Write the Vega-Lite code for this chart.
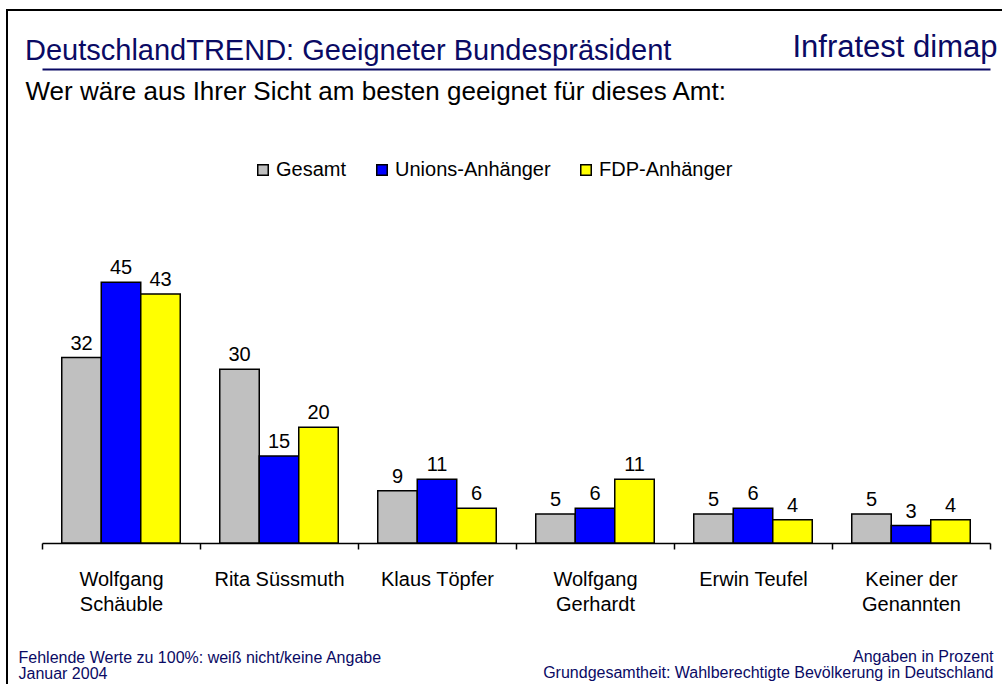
{
  "$schema": "https://vega.github.io/schema/vega-lite/v6.json",
  "autosize": "none",
  "width": 1000,
  "height": 690,
  "padding": {"left": 7, "top": 10, "right": 0, "bottom": 0},
  "background": "white",
  "title": {
    "text": "DeutschlandTREND: Geeigneter Bundespräsident",
    "anchor": "start",
    "frame": "group",
    "orient": "top",
    "baseline": "alphabetic",
    "offset": 0,
    "dx": 18,
    "dy": 79,
    "fontSize": 29,
    "fontWeight": "normal",
    "color": "#0a0a64",
    "font": "Liberation Sans"
  },
  "config": {
    "font": "Liberation Sans",
    "view": {"stroke": "black", "strokeWidth": 2},
    "axis": {"grid": false}
  },
  "data": {
    "values": [
      {"kandidat": "Wolfgang Schäuble", "gruppe": "Gesamt", "wert": 32},
      {"kandidat": "Wolfgang Schäuble", "gruppe": "Unions-Anhänger", "wert": 45},
      {"kandidat": "Wolfgang Schäuble", "gruppe": "FDP-Anhänger", "wert": 43},
      {"kandidat": "Rita Süssmuth", "gruppe": "Gesamt", "wert": 30},
      {"kandidat": "Rita Süssmuth", "gruppe": "Unions-Anhänger", "wert": 15},
      {"kandidat": "Rita Süssmuth", "gruppe": "FDP-Anhänger", "wert": 20},
      {"kandidat": "Klaus Töpfer", "gruppe": "Gesamt", "wert": 9},
      {"kandidat": "Klaus Töpfer", "gruppe": "Unions-Anhänger", "wert": 11},
      {"kandidat": "Klaus Töpfer", "gruppe": "FDP-Anhänger", "wert": 6},
      {"kandidat": "Wolfgang Gerhardt", "gruppe": "Gesamt", "wert": 5},
      {"kandidat": "Wolfgang Gerhardt", "gruppe": "Unions-Anhänger", "wert": 6},
      {"kandidat": "Wolfgang Gerhardt", "gruppe": "FDP-Anhänger", "wert": 11},
      {"kandidat": "Erwin Teufel", "gruppe": "Gesamt", "wert": 5},
      {"kandidat": "Erwin Teufel", "gruppe": "Unions-Anhänger", "wert": 6},
      {"kandidat": "Erwin Teufel", "gruppe": "FDP-Anhänger", "wert": 4},
      {"kandidat": "Keiner der Genannten", "gruppe": "Gesamt", "wert": 5},
      {"kandidat": "Keiner der Genannten", "gruppe": "Unions-Anhänger", "wert": 3},
      {"kandidat": "Keiner der Genannten", "gruppe": "FDP-Anhänger", "wert": 4}
    ]
  },
  "layer": [
    {
      "mark": {"type": "bar", "stroke": "black", "strokeWidth": 1.5, "opacity": 1},
      "encoding": {
        "x": {
          "field": "kandidat",
          "type": "nominal",
          "sort": null,
          "scale": {"range": [35, 983], "paddingInner": 0, "paddingOuter": 0},
          "axis": {
            "orient": "bottom",
            "offset": -157,
            "domainColor": "black",
            "domainWidth": 1.5,
            "tickBand": "extent",
            "tickColor": "black",
            "tickWidth": 1.5,
            "tickSize": 6,
            "labelAngle": 0,
            "labelFontSize": 20,
            "labelColor": "black",
            "labelPadding": 20,
            "labelLineHeight": 25,
            "labelExpr": "datum.value == 'Wolfgang Schäuble' ? ['Wolfgang', 'Schäuble'] : datum.value == 'Wolfgang Gerhardt' ? ['Wolfgang', 'Gerhardt'] : datum.value == 'Keiner der Genannten' ? ['Keiner der', 'Genannten'] : datum.value",
            "title": ["Fehlende Werte zu 100%: weiß nicht/keine Angabe", "Januar 2004"],
            "titleX": 11,
            "titleY": 119,
            "titleAlign": "left",
            "titleBaseline": "alphabetic",
            "titleFontSize": 16,
            "titleFontWeight": "normal",
            "titleColor": "#0a0a64",
            "titleLineHeight": 16
          }
        },
        "xOffset": {
          "field": "gruppe",
          "type": "nominal",
          "sort": ["Gesamt", "Unions-Anhänger", "FDP-Anhänger"],
          "scale": {"paddingInner": 0, "paddingOuter": 0.5}
        },
        "y": {
          "field": "wert",
          "type": "quantitative",
          "scale": {"domain": [0, 92], "range": [533, 0], "nice": false},
          "axis": {
            "orient": "left",
            "labels": false,
            "ticks": false,
            "domain": false,
            "grid": false,
            "title": "Wer wäre aus Ihrer Sicht am besten geeignet für dieses Amt:",
            "titleAngle": 0,
            "titleX": 18,
            "titleY": 89,
            "titleAlign": "left",
            "titleBaseline": "alphabetic",
            "titleFontSize": 26,
            "titleFontWeight": "normal",
            "titleColor": "black"
          }
        },
        "color": {
          "field": "gruppe",
          "type": "nominal",
          "sort": ["Gesamt", "Unions-Anhänger", "FDP-Anhänger"],
          "scale": {"domain": ["Gesamt", "Unions-Anhänger", "FDP-Anhänger"], "range": ["#C0C0C0", "#0000FF", "#FFFF00"]},
          "legend": {
            "orient": "none",
            "legendX": 246,
            "legendY": 150,
            "direction": "horizontal",
            "title": null,
            "padding": 0,
            "symbolType": "square",
            "symbolSize": 110,
            "symbolStrokeColor": "black",
            "symbolStrokeWidth": 1.5,
            "symbolOpacity": 1,
            "labelFontSize": 20,
            "labelColor": "black",
            "labelOffset": 3,
            "columnPadding": 25,
            "labelLimit": 300
          }
        }
      }
    },
    {
      "mark": {"type": "text", "baseline": "alphabetic", "align": "center", "dy": -8, "fontSize": 20, "color": "black"},
      "encoding": {
        "x": {
          "field": "kandidat",
          "type": "nominal",
          "sort": null,
          "scale": {"range": [35, 983], "paddingInner": 0, "paddingOuter": 0},
          "axis": {
            "orient": "top",
            "offset": -59,
            "labels": false,
            "ticks": false,
            "domainColor": "#0a0a64",
            "domainWidth": 2,
            "title": "Infratest dimap",
            "titleX": 990,
            "titleY": -13,
            "titleAlign": "right",
            "titleBaseline": "alphabetic",
            "titleFontSize": 31,
            "titleFontWeight": "normal",
            "titleColor": "#0a0a64"
          }
        },
        "xOffset": {
          "field": "gruppe",
          "type": "nominal",
          "sort": ["Gesamt", "Unions-Anhänger", "FDP-Anhänger"],
          "scale": {"paddingInner": 0, "paddingOuter": 0.5}
        },
        "y": {
          "field": "wert",
          "type": "quantitative",
          "scale": {"domain": [0, 92], "range": [533, 0], "nice": false},
          "axis": {
            "orient": "right",
            "labels": false,
            "ticks": false,
            "domain": false,
            "grid": false,
            "title": ["Angaben in Prozent", "Grundgesamtheit: Wahlberechtigte Bevölkerung in Deutschland"],
            "titleAngle": 0,
            "titleX": -14,
            "titleY": 651,
            "titleAlign": "right",
            "titleBaseline": "alphabetic",
            "titleFontSize": 16,
            "titleFontWeight": "normal",
            "titleColor": "#0a0a64",
            "titleLineHeight": 16
          }
        },
        "text": {"field": "wert", "type": "quantitative"}
      }
    }
  ],
  "resolve": {"axis": {"x": "independent", "y": "independent"}}
}
